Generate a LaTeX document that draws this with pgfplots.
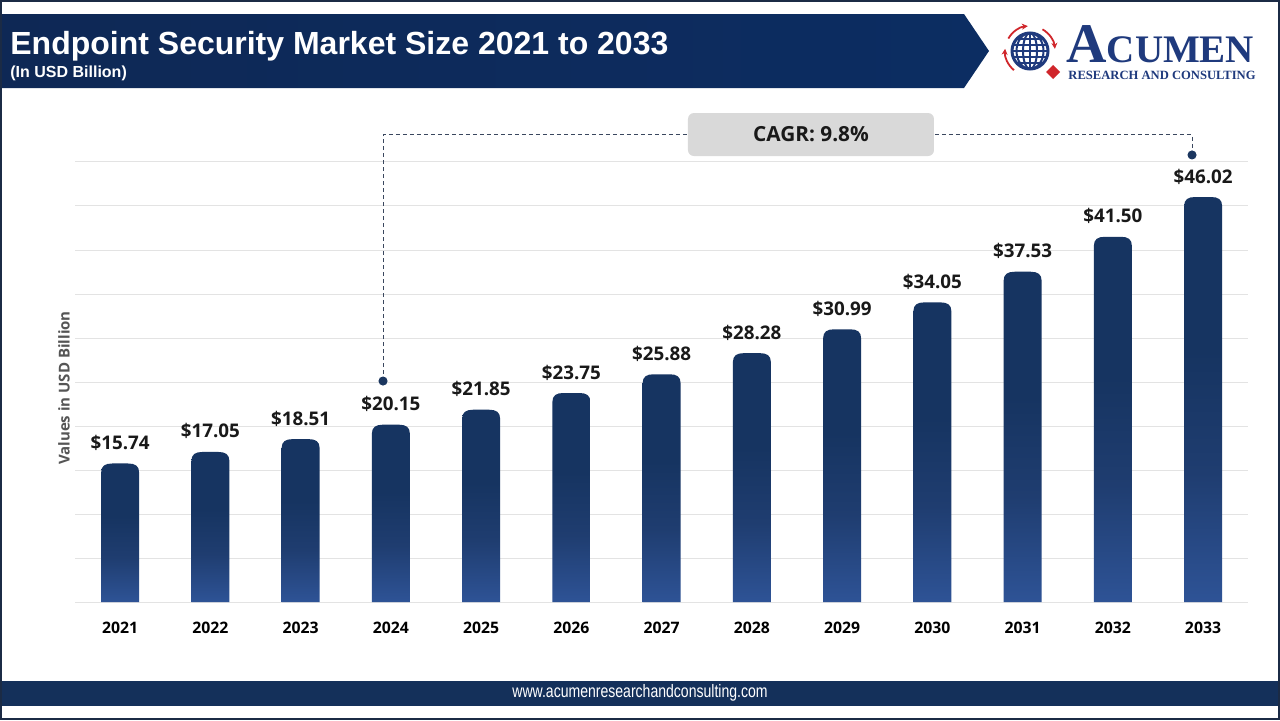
\documentclass[border=0pt]{standalone}
\usepackage{pgfplots}
\pgfplotsset{compat=1.18}
\usepackage{pgfplotstable}
\usepackage{graphicx}
\usepackage{fontspec}
\setmainfont{Liberation Sans}
\newfontfamily\opensans{Open Sans}
\newfontfamily\logoserif{Liberation Serif}
\usetikzlibrary{arrows.meta}

\definecolor{bannerL}{HTML}{0E2855}
\definecolor{bannerR}{HTML}{0C2D62}
\definecolor{barTop}{HTML}{163461}
\definecolor{barMid}{HTML}{1F3D70}
\definecolor{barBot}{HTML}{2E5396}
\definecolor{footer}{HTML}{14305A}
\definecolor{framec}{HTML}{1B2B45}
\definecolor{gridc}{HTML}{E3E3E3}
\definecolor{logoNavy}{HTML}{1F3A7D}
\definecolor{logoRed}{HTML}{D0262B}
\definecolor{cagrbox}{HTML}{D9D9D9}
\definecolor{dashc}{HTML}{3A475E}
\definecolor{dotc}{HTML}{1B365F}
\definecolor{ylabc}{HTML}{555555}

% bar fill: light blue at the foot, deep navy over the upper part
\pgfdeclareverticalshading{barshade}{100bp}{%
  color(0bp)=(barBot); color(25bp)=(barBot); color(41bp)=(barMid);
  color(56bp)=(barTop); color(100bp)=(barTop)}
\pgfdeclareplotmark{nothing}{}

\pgfplotstableread{
year v
2021 15.74
2022 17.05
2023 18.51
2024 20.15
2025 21.85
2026 23.75
2027 25.88
2028 28.28
2029 30.99
2030 34.05
2031 37.53
2032 41.50
2033 46.02
}\market

\begin{document}
\begin{tikzpicture}
\useasboundingbox (0,0) rectangle (640pt,360pt);

% page furniture in pixel-like units, y running downwards
\begin{scope}[shift={(0pt,360pt)}, x=0.5pt, y=-0.5pt]
  \fill[white] (0,0) rectangle (1280,720);
  % header banner with arrow tip
  \shade[left color=bannerL, right color=bannerR]
    (0,14) -- (964,14) -- (989,51) -- (964,88) -- (0,88) -- cycle;
  \node[anchor=base west, inner sep=0pt, text=white,
        font=\bfseries\fontsize{16}{19}\selectfont] at (10,54)
        {Endpoint Security Market Size 2021 to 2033};
  \node[anchor=base west, inner sep=0pt, text=white,
        font=\bfseries\fontsize{8}{10}\selectfont] at (10,77)
        {(In USD Billion)};

  % logo: globe, circling arrows, diamond, word mark
  \begin{scope}
    \clip (1030,51) circle (18);
    \foreach \yy in {-12,-6,0,6,12}
      \draw[logoNavy, line width=1pt] (1008,51+\yy) -- (1052,51+\yy);
    \draw[logoNavy, line width=1pt] (1030,30) -- (1030,72);
    \draw[logoNavy, line width=1pt] (1030,51) ellipse (7 and 18);
    \draw[logoNavy, line width=1pt] (1030,51) ellipse (13.5 and 18);
  \end{scope}
  \draw[logoNavy, line width=1.5pt] (1030,51) circle (18);
  \draw[logoRed, line width=0.9pt, -{Stealth[length=3pt,width=3pt]}]
    ([shift={(-150:25)}]1030,51) arc[start angle=-150, end angle=-95, radius=25];
  \draw[logoRed, line width=0.9pt, -{Stealth[length=3pt,width=3pt]}]
    ([shift={(-60:25)}]1030,51) arc[start angle=-60, end angle=-5, radius=25];
  \draw[logoRed, line width=0.9pt, -{Stealth[length=3pt,width=3pt]}]
    ([shift={(130:25)}]1030,51) arc[start angle=130, end angle=185, radius=25];
  \fill[logoRed] (1053,65) -- (1060,72) -- (1053,79) -- (1046,72) -- cycle;
  \node[anchor=base west, inner sep=0pt, text=logoNavy,
        font=\logoserif\bfseries] at (1066,62)
        {\fontsize{28}{30}\selectfont A\fontsize{19.5}{22}\selectfont CUMEN};
  \node[anchor=base west, inner sep=0pt, text=logoNavy,
        font=\logoserif\bfseries\fontsize{6.3}{7}\selectfont] at (1068,79)
        {RESEARCH AND CONSULTING};

  % y axis caption
  \node[rotate=90, text=ylabc, inner sep=0pt,
        font=\opensans\bfseries\fontsize{7.5}{9}\selectfont] at (64,388)
        {Values in USD Billion};

  % footer
  \fill[footer] (0,681) rectangle (1280,706);
  \node[text=white, inner sep=0pt, font=\fontsize{9}{10}\selectfont] at (640,693)
        {\scalebox{0.78}[1]{www.acumenresearchandconsulting.com}};

  \draw[framec, line width=1pt] (1,1) rectangle (1279,719);
\end{scope}

\begin{axis}[
  at={(37.5pt,59pt)}, anchor=south west,
  x=45.125pt, y=4.4pt,
  xmin=2020.5, xmax=2033.5, ymin=0, ymax=50,
  clip=false,
  axis line style={draw=none},
  major tick length=0pt,
  xtick={2021,...,2033},
  ytick={0,5,...,50},
  yticklabels={},
  ymajorgrids,
  major grid style={gridc, line width=0.5pt},
  xticklabel style={font=\opensans\bfseries\fontsize{7.9}{9}\selectfont,
    text=black, inner sep=0pt, anchor=north, yshift=-10pt,
    /pgf/number format/1000 sep={},
    /pgf/number format/assume math mode=true},
]

% bars with rounded tops, drawn down from each data point to zero
\addplot[scatter, only marks, mark=nothing,
  visualization depends on={\thisrow{v} \as \val},
  scatter/@pre marker code/.code={%
    \pgfmathsetlengthmacro{\bh}{\val*4.4pt}%
    \shade[shading=barshade, draw=none] (-9.5pt,-\bh) -- (-9.5pt,-4.5pt)
      .. controls (-9.5pt,-1.2pt) and (-7.5pt,0pt) .. (-4pt,0pt) -- (4pt,0pt)
      .. controls (7.5pt,0pt) and (9.5pt,-1.2pt) .. (9.5pt,-4.5pt)
      -- (9.5pt,-\bh) -- cycle;
  },
  scatter/@post marker code/.code={},
] table[x=year, y=v] {\market};

% value labels
\addplot[draw=none, mark=none, point meta=y,
  nodes near coords={\$\pgfmathprintnumber[fixed, fixed zerofill, precision=2,
    assume math mode=true]{\pgfplotspointmeta}},
  nodes near coords style={font=\opensans\bfseries\fontsize{9.4}{11}\selectfont,
    text=black!90, anchor=base, inner sep=0pt, yshift=7pt},
] table[x=year, y=v] {\market};

% CAGR bracket from 2024 to 2033
\addplot[dashc, line width=0.5pt, dash pattern=on 2.2pt off 1.3pt,
  mark=*, mark indices={1,4}, mark size=2pt,
  mark options={solid, fill=dotc, draw=dotc}]
  coordinates {(2023.913,25.11) (2023.913,53.07) (2032.877,53.07) (2032.877,50.8)};

\node[fill=cagrbox, rounded corners=3pt, minimum width=123pt, minimum height=21.5pt,
      inner sep=0pt, text=black!90,
      font=\opensans\bfseries\fontsize{10.4}{12}\selectfont]
      at (axis cs:2028.655,53.12) {CAGR: 9.8\%};
\end{axis}
\end{tikzpicture}
\end{document}
